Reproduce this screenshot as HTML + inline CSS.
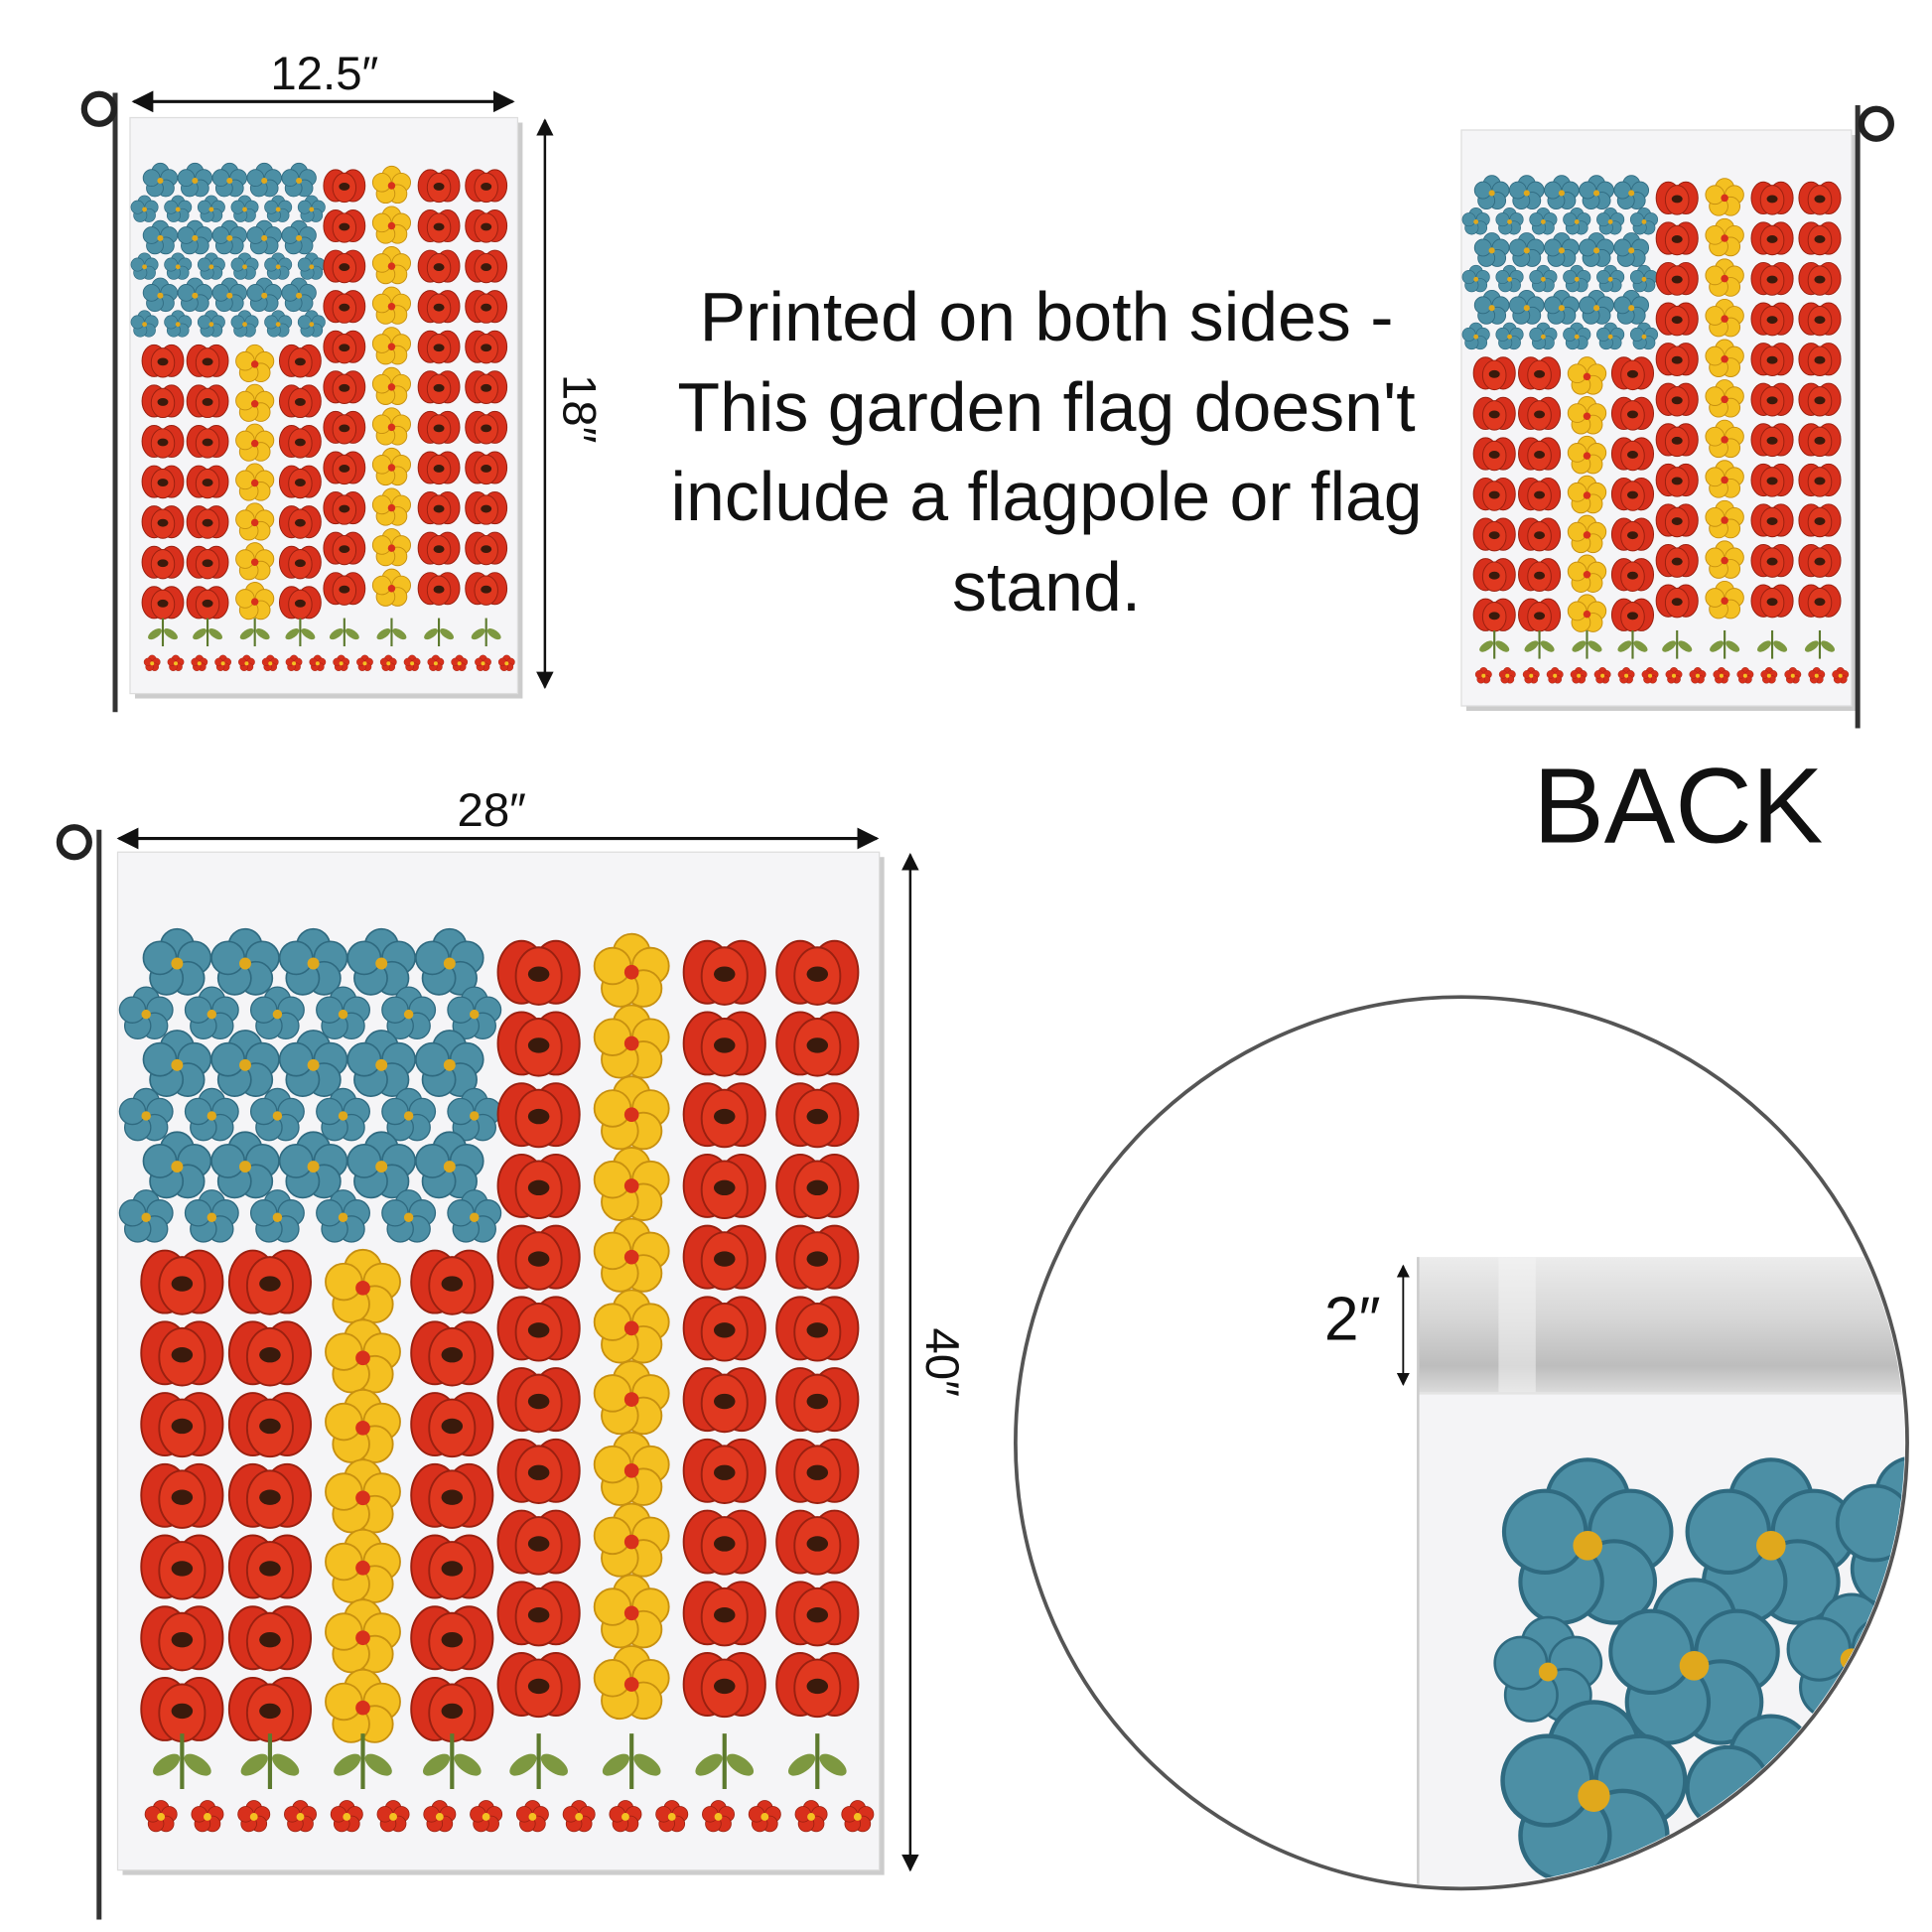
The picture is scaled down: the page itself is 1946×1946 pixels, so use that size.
<!DOCTYPE html>
<html><head><meta charset="utf-8"><style>
html,body{margin:0;padding:0;background:#fff;width:1946px;height:1946px;overflow:hidden}
svg{display:block}
text{font-family:"Liberation Sans","DejaVu Sans",sans-serif;fill:#111}
</style></head><body>
<svg id="s" width="1946" height="1946" viewBox="0 0 1560 1560" xmlns="http://www.w3.org/2000/svg">
<defs>
<marker id="a" viewBox="0 0 10 10" refX="9" refY="5" markerWidth="7" markerHeight="7" orient="auto-start-reverse"><path d="M0,0L10,5L0,10z" fill="#111"/></marker>
<clipPath id="cc"><circle cx="1180" cy="1165" r="358"/></clipPath>
<linearGradient id="band" x1="0" y1="0" x2="0" y2="1"><stop offset="0" stop-color="#ececec"/><stop offset="0.45" stop-color="#d6d6d6"/><stop offset="0.8" stop-color="#bdbdbd"/><stop offset="1" stop-color="#dcdcdc"/></linearGradient>
</defs>
<g id="g"></g>
<line x1="108" y1="82" x2="414" y2="82" stroke="#111" stroke-width="2.5" marker-start="url(#a)" marker-end="url(#a)"/>
<text x="262" y="72" font-size="38" text-anchor="middle">12.5″</text>
<line x1="440" y1="97" x2="440" y2="555" stroke="#111" stroke-width="2" marker-start="url(#a)" marker-end="url(#a)"/>
<text x="0" y="0" font-size="38" text-anchor="middle" transform="translate(455,330) rotate(90)">18″</text>
<text x="845" y="275" font-size="56" text-anchor="middle">Printed on both sides -</text>
<text x="845" y="348" font-size="56" text-anchor="middle">This garden flag doesn't</text>
<text x="845" y="420" font-size="56" text-anchor="middle">include a flagpole or flag</text>
<text x="845" y="493" font-size="56" text-anchor="middle">stand.</text>
<text x="1355" y="680" font-size="86" text-anchor="middle">BACK</text>
<line x1="96" y1="677" x2="708" y2="677" stroke="#111" stroke-width="2.5" marker-start="url(#a)" marker-end="url(#a)"/>
<text x="397" y="667" font-size="38" text-anchor="middle">28″</text>
<line x1="735" y1="690" x2="735" y2="1510" stroke="#111" stroke-width="2" marker-start="url(#a)" marker-end="url(#a)"/>
<text x="0" y="0" font-size="38" text-anchor="middle" transform="translate(748,1100) rotate(90)">40″</text>
</svg>
<script>
var NS="http://www.w3.org/2000/svg",G=document.getElementById("g");
function el(t,a,p){var e=document.createElementNS(NS,t);for(var k in a)e.setAttribute(k,a[k]);(p||G).appendChild(e);return e}
function petals(x,y,r,n,col,stroke,cen,cr,p){for(var i=0;i<n;i++){var an=i*2*Math.PI/n-Math.PI/2;el("ellipse",{cx:x+Math.cos(an)*r*0.55,cy:y+Math.sin(an)*r*0.55,rx:r*0.5,ry:r*0.5,fill:col,stroke:stroke,"stroke-width":r*0.05},p)}el("circle",{cx:x,cy:y,r:cr,fill:cen},p)}
function poppy(x,y,r,p){el("ellipse",{cx:x-r*0.45,cy:y,rx:r*0.62,ry:r*0.82,fill:"#d8301c",stroke:"#9a2010","stroke-width":r*0.05},p);el("ellipse",{cx:x+r*0.45,cy:y,rx:r*0.62,ry:r*0.82,fill:"#d8301c",stroke:"#9a2010","stroke-width":r*0.05},p);el("ellipse",{cx:x,cy:y+r*0.1,rx:r*0.6,ry:r*0.75,fill:"#e0381f",stroke:"#9a2010","stroke-width":r*0.05},p);el("ellipse",{cx:x,cy:y+r*0.05,rx:r*0.28,ry:r*0.2,fill:"#3a1a0c"},p)}
function yel(x,y,r,p){petals(x,y,r,5,"#f4c021","#c79010","#d8301c",r*0.2,p)}
function blu(x,y,r,p){petals(x,y,r,5,"#4c8fa5","#2f6a80","#e0a81c",r*0.18,p)}
function stem(x,y,s,p){el("line",{x1:x,y1:y-s*0.9,x2:x,y2:y+s*0.7,stroke:"#5d7a2e","stroke-width":s*0.12},p);el("ellipse",{cx:x-s*0.45,cy:y,rx:s*0.45,ry:s*0.22,fill:"#7d9840",transform:"rotate(-35 "+(x-s*0.45)+" "+y+")"},p);el("ellipse",{cx:x+s*0.45,cy:y,rx:s*0.45,ry:s*0.22,fill:"#7d9840",transform:"rotate(35 "+(x+s*0.45)+" "+y+")"},p)}
function small(x,y,r,p){petals(x,y,r,5,"#d8301c","#9a2010","#f4c021",r*0.25,p)}
function pole(x,y1,y2,lx,ly){el("line",{x1:x,y1:y1,x2:x,y2:y2,stroke:"#333","stroke-width":4});el("circle",{cx:lx,cy:ly,r:12,fill:"none",stroke:"#222","stroke-width":5})}
function flag(X,Y,W,H){
 var g=el("g",{});
 el("rect",{x:X+4,y:Y+4,width:W,height:H,fill:"#ccc"},g);
 el("rect",{x:X,y:Y,width:W,height:H,fill:"#f5f5f7",stroke:"#ddd","stroke-width":1},g);
 var sx=W/615,sy=H/822;
 function px(v){return X+(v-95)*sx} function py(v){return Y+(v-688)*sy}
 var R=28*sx;
 for(var r=0;r<6;r++){var off=(r%2)?1:0;for(var c=0;c<(off?6:5);c++){var cx=off?(118+c*53):(143+c*55);var rr=off?R*0.75:R*0.95;blu(px(cx),py(778+r*41),rr,g)}}
 var rc=[435,510,585,660];
 for(var r=0;r<11;r++)for(var c=0;c<4;c++){var x=px(rc[c]),y=py(785+r*57.5);c==1?yel(x,y,R*1.05,g):poppy(x,y,R*1.1,g)}
 var lc=[147,218,293,365];
 for(var r=0;r<7;r++)for(var c=0;c<4;c++){var x=px(lc[c]),y=py(1035+r*57.5);if(c==2){yel(x,py(1040+r*56.5),R*1.05,g)}else poppy(x,y,R*1.1,g)}
 var st=[147,218,293,365,435,510,585,660];for(var i=0;i<8;i++)stem(px(st[i]),py(1425),R,g);
 for(var i=0;i<16;i++)small(px(130+i*37.5),py(1467),R*0.45,g);
 return g;
}
flag(105,95,313,465);pole(93,75,575,80,88);
flag(1180,105,315,465);pole(1500,85,588,1515,100);
flag(95,688,615,822);pole(80,670,1550,60,680);
var cg=el("g",{"clip-path":"url(#cc)"});
el("rect",{x:1145,y:1015,width:400,height:520,fill:"#f4f4f6"},cg);
el("rect",{x:1145,y:1015,width:400,height:110,fill:"url(#band)"},cg);
el("rect",{x:1210,y:1015,width:30,height:110,fill:"#f6f6f6",opacity:0.5},cg);
el("line",{x1:1145,y1:1125,x2:1545,y2:1125,stroke:"#e4e4e4","stroke-width":2},cg);
el("line",{x1:1145,y1:1015,x2:1145,y2:1535,stroke:"#ccc","stroke-width":2},cg);
blu(1282,1248,66,cg);blu(1430,1248,66,cg);blu(1545,1240,60,cg);
blu(1250,1350,42,cg);blu(1368,1345,66,cg);blu(1495,1340,50,cg);
blu(1287,1450,72,cg);blu(1430,1455,66,cg);
el("circle",{cx:1180,cy:1165,r:360,fill:"none",stroke:"#555","stroke-width":3});
el("line",{x1:1133,y1:1022,x2:1133,y2:1118,stroke:"#111","stroke-width":1.5,"marker-start":"url(#a)","marker-end":"url(#a)"});
var t=el("text",{x:1092,y:1082,"font-size":50,"text-anchor":"middle"});t.textContent="2″";
</script>
</body></html>
